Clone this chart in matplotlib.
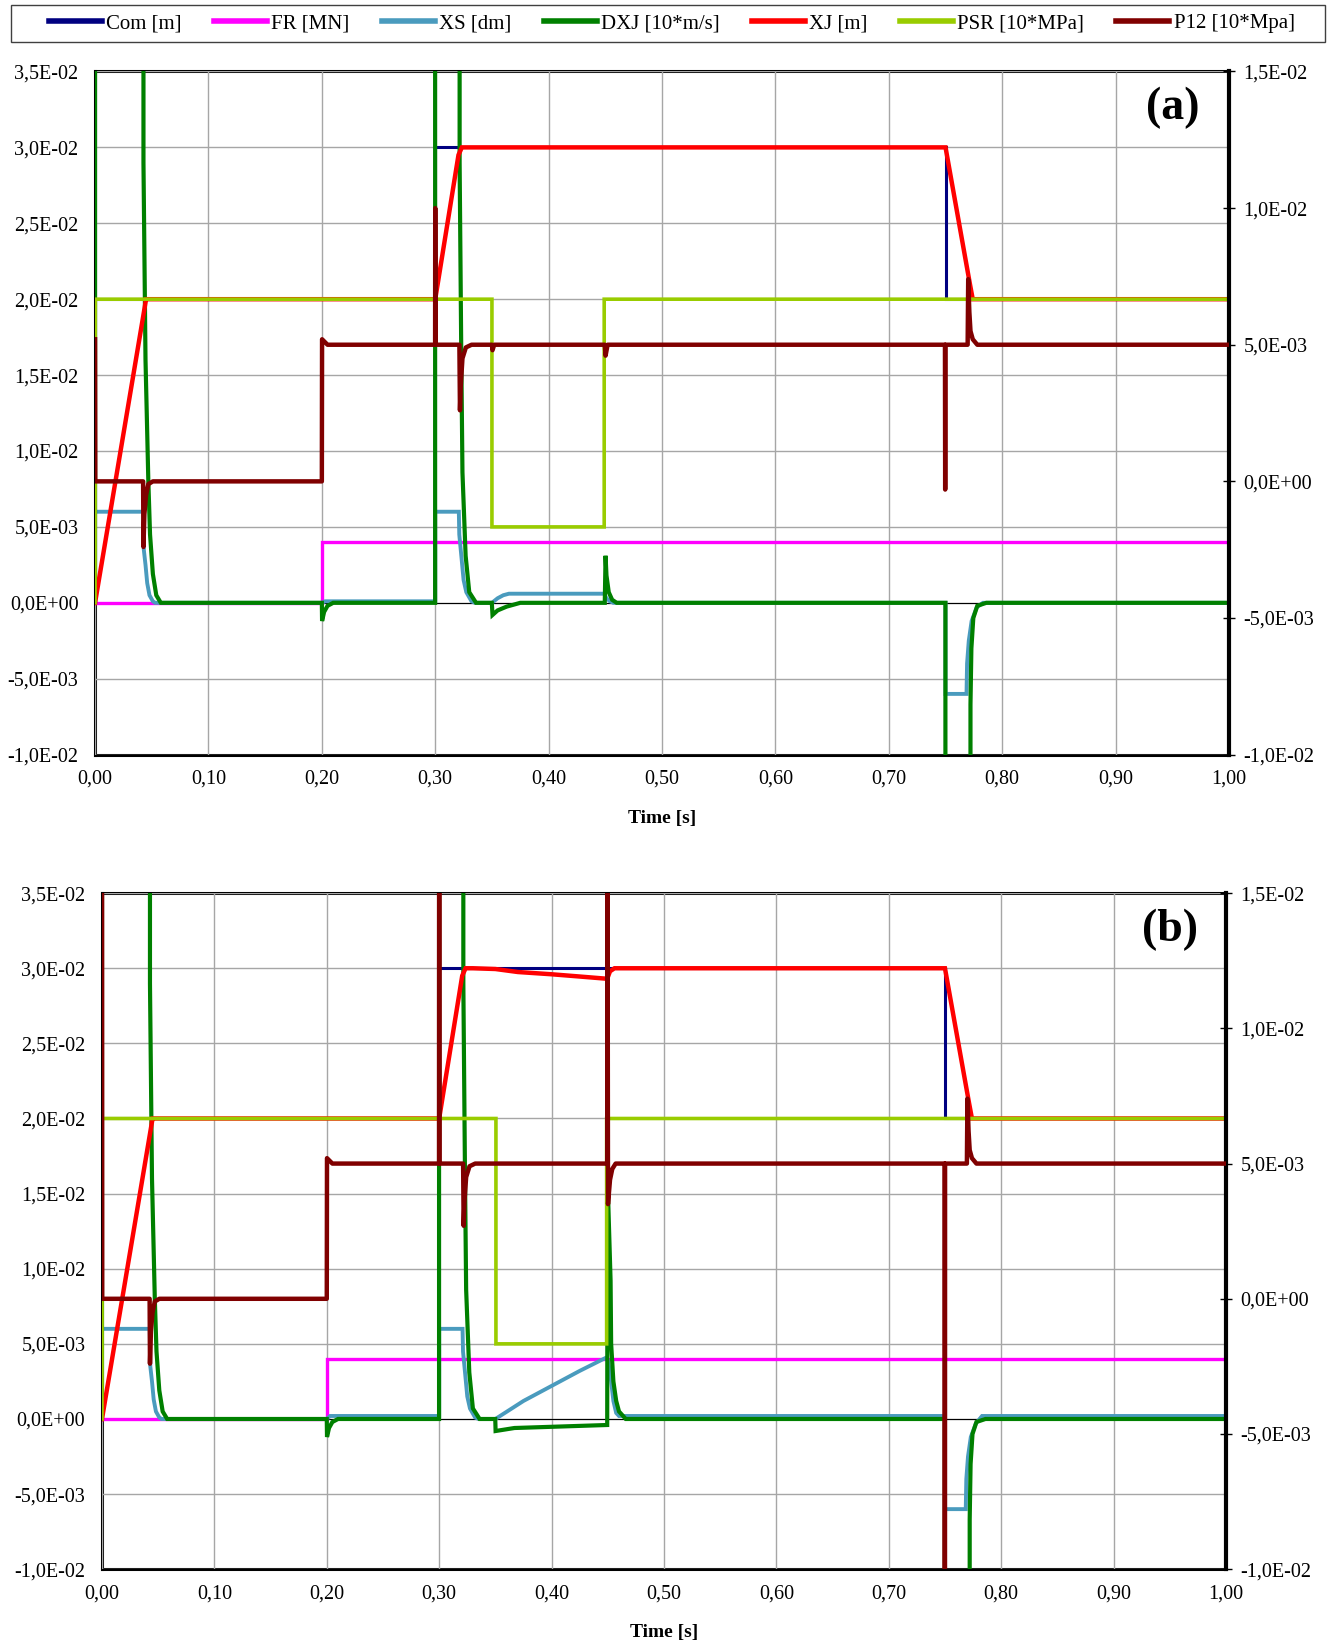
import matplotlib
matplotlib.use('Agg')
import matplotlib.pyplot as plt
from matplotlib.lines import Line2D
from matplotlib.patches import Rectangle

plt.rcParams['font.family'] = ['Liberation Serif', 'DejaVu Serif']

names = ['Com [m]', 'FR [MN]', 'XS [dm]', 'DXJ [10*m/s]', 'XJ [m]', 'PSR [10*MPa]', 'P12 [10*Mpa]']
colors = ['#000080', '#FF00FF', '#4A9BBE', '#008000', '#FF0000', '#99CC00', '#800000']
widths = [2.2, 2.4, 2.8, 3.0, 3.2, 2.6, 3.2]

x_ticks = [0.0, 0.1, 0.2, 0.3, 0.4, 0.5, 0.6, 0.7, 0.8, 0.9, 1.0]
left_ticks = [-0.01, -0.005, 0.0, 0.005, 0.01, 0.015, 0.02, 0.025, 0.03, 0.035]
right_ticks = [-0.01, -0.005, 0.0, 0.005, 0.01, 0.015]

# ---- panel (a) ----
t_com_a = [0, 0.3, 0.3, 0.75, 0.75, 1.0]
com_a = [0.02, 0.02, 0.03, 0.03, 0.02, 0.02]

t_fr_a = [0, 0.2, 0.2, 1.0]
fr_a = [0, 0, 0.004, 0.004]

t_xs_a = [0, 0.0425, 0.043, 0.0445, 0.046, 0.048, 0.051, 0.053, 0.2, 0.203, 0.3, 0.3, 0.3208, 0.3212,
          0.323, 0.325, 0.3274, 0.332, 0.335, 0.35, 0.355, 0.36, 0.365, 0.37, 0.449, 0.451, 0.454, 0.457,
          0.75, 0.75, 0.7685, 0.769, 0.7705, 0.773, 0.7775, 0.783, 1.0]
xs_a = [0.006, 0.006, 0.0035, 0.0025, 0.0013, 0.0005, 0.0001, 0, 0, 0.0001, 0.0001, 0.006, 0.006, 0.0045,
        0.0031, 0.0015, 0.0007, 0.0001, 0, 0, 0.0003, 0.0005, 0.0006, 0.0006, 0.0006, 0.0003, 0.0001, 0,
        0, -0.006, -0.006, -0.004, -0.0025, -0.0012, -0.0003, 0, 0]

t_dxj_a = [0, 0.0001, 0.0425, 0.0427, 0.0445, 0.047, 0.0485, 0.051, 0.054, 0.058, 0.2, 0.2002, 0.202,
           0.205, 0.21, 0.2999, 0.3001, 0.3213, 0.3215, 0.323, 0.324, 0.3268, 0.33, 0.336, 0.3499, 0.3505,
           0.355, 0.363, 0.375, 0.4495, 0.4502, 0.451, 0.453, 0.456, 0.46, 0.7499, 0.7501, 0.7719, 0.772,
           0.7728, 0.7745, 0.778, 0.786, 1.0]
dxj_a = [0, 4.4, 4.4, 0.029, 0.016, 0.008, 0.0045, 0.0019, 0.0005, 0, 0, -0.0012, -0.0006,
         -0.0002, 0, 0, 4.5, 4.5, 0.029, 0.016, 0.0086, 0.0031, 0.0007, 0, 0, -0.0008,
         -0.0005, -0.00025, 0, 0, 0.0031, 0.0018, 0.0007, 0.0002, 0, 0, -4.0, -4.0, -0.0067,
         -0.003, -0.001, -0.0002, 0, 0]

t_xj_a = [0, 0.045, 0.047, 0.3, 0.3205, 0.3235, 0.75, 0.7715, 0.774, 1.0]
xj_a = [0, 0.02, 0.02, 0.02, 0.0295, 0.03, 0.03, 0.021, 0.02, 0.02]

t_psr_a = [0, 0.0002, 0.35, 0.35, 0.449, 0.449, 1.0]
psr_a = [0, 0.02, 0.02, 0.005, 0.005, 0.02, 0.02]

t_p12_a = [0, 0.0002, 0.0424, 0.0427, 0.0435, 0.045, 0.047, 0.051, 0.2, 0.2002, 0.205, 0.2999, 0.3,
           0.3002, 0.3213, 0.3218, 0.3225, 0.324, 0.327, 0.332, 0.35, 0.3505, 0.352, 0.4495, 0.4502,
           0.452, 0.7495, 0.7497, 0.7499, 0.7695, 0.77, 0.771, 0.772, 0.774, 0.778, 1.0]
p12_a = [0.0052, 0, 0, -0.0024, -0.0012, -0.0005, -0.0001, 0, 0, 0.0052, 0.005, 0.005, 0.01,
         0.005, 0.005, 0.0026, 0.0035, 0.0045, 0.0049, 0.005, 0.005, 0.0048, 0.005, 0.005, 0.0046,
         0.005, 0.005, -0.0003, 0.005, 0.005, 0.0074, 0.0062, 0.0055, 0.0052, 0.005, 0.005]

# ---- panel (b) ----
t_com_b = [0, 0.3, 0.3, 0.75, 0.75, 1.0]
com_b = [0.02, 0.02, 0.03, 0.03, 0.02, 0.02]

t_fr_b = [0, 0.2, 0.2, 1.0]
fr_b = [0, 0, 0.004, 0.004]

t_xs_b = [0, 0.0425, 0.043, 0.0445, 0.046, 0.048, 0.051, 0.053, 0.2, 0.203, 0.3, 0.3, 0.3208, 0.3212,
          0.323, 0.325, 0.3274, 0.332, 0.335, 0.35, 0.375, 0.40, 0.425, 0.449, 0.4505, 0.453, 0.455,
          0.4575, 0.46, 0.75, 0.75, 0.7685, 0.769, 0.7705, 0.773, 0.7775, 0.783, 1.0]
xs_b = [0.006, 0.006, 0.0035, 0.0025, 0.0013, 0.0005, 0.0001, 0, 0, 0.0002, 0.0002, 0.006, 0.006, 0.0045,
        0.0031, 0.0015, 0.0007, 0.0001, 0, 0, 0.0012, 0.0022, 0.0032, 0.0041, 0.0038, 0.0025, 0.0012,
        0.0004, 0.0002, 0.0002, -0.006, -0.006, -0.004, -0.0025, -0.0012, -0.0003, 0.0002, 0.0002]

t_dxj_b = [0, 0.0001, 0.0425, 0.0427, 0.0445, 0.047, 0.0485, 0.051, 0.054, 0.058, 0.2, 0.2002, 0.202,
           0.205, 0.21, 0.2999, 0.3001, 0.3213, 0.3215, 0.323, 0.324, 0.3268, 0.33, 0.336, 0.3499, 0.3502,
           0.367, 0.4495, 0.4498, 0.4525, 0.453, 0.455, 0.4575, 0.46, 0.466, 0.7499, 0.7501, 0.7719,
           0.772, 0.7728, 0.7745, 0.778, 0.786, 1.0]
dxj_b = [0, 4.4, 4.4, 0.029, 0.016, 0.008, 0.0045, 0.0019, 0.0005, 0, 0, -0.0012, -0.0006,
         -0.0002, 0, 0, 4.5, 4.5, 0.029, 0.016, 0.0086, 0.0031, 0.0007, 0, 0, -0.0008,
         -0.0006, -0.0004, 0.016, 0.0092, 0.005, 0.0025, 0.0012, 0.0005, 0, 0, -4.0, -4.0,
         -0.0067, -0.003, -0.001, -0.0002, 0, 0]

t_xj_b = [0, 0.045, 0.047, 0.3, 0.3205, 0.3235, 0.33, 0.35, 0.37, 0.40, 0.425, 0.4495, 0.452, 0.456,
          0.75, 0.7715, 0.774, 1.0]
xj_b = [0, 0.02, 0.02, 0.02, 0.0295, 0.03, 0.03, 0.02995, 0.02975, 0.0296, 0.02945, 0.0293, 0.0298,
        0.03, 0.03, 0.021, 0.02, 0.02]

t_psr_b = [0, 0.0002, 0.3505, 0.3505, 0.449, 0.449, 1.0]
psr_b = [0, 0.02, 0.02, 0.005, 0.005, 0.02, 0.02]

t_p12_b = [0, 0.0002, 0.0424, 0.0427, 0.0435, 0.045, 0.047, 0.051, 0.2, 0.2002, 0.205, 0.2999, 0.3,
           0.3002, 0.3213, 0.3218, 0.3225, 0.324, 0.327, 0.332, 0.4495, 0.4497, 0.4502, 0.452, 0.454,
           0.457, 0.7497, 0.7499, 0.7501, 0.7695, 0.77, 0.771, 0.772, 0.774, 0.778, 1.0]
p12_b = [0.02, 0, 0, -0.0024, -0.0012, -0.0005, -0.0001, 0, 0, 0.0052, 0.005, 0.005, 0.02,
         0.005, 0.005, 0.0027, 0.0036, 0.0045, 0.0049, 0.005, 0.005, 0.02, 0.0035, 0.0044, 0.0048,
         0.005, 0.005, -0.03, 0.005, 0.005, 0.0074, 0.0062, 0.0055, 0.0052, 0.005, 0.005]


def sci(v, pos=None):
    if abs(v) < 1e-12:
        v = 0.0
    return f"{v:.1E}".replace('.', ',')


def dec(v, pos=None):
    return f"{v:.2f}".replace('.', ',')


def draw_panel(rect, left_data, p12_t, p12_v, tag):
    ax = fig.add_axes(rect)
    ax.set_xlim(0, 1)
    ax.set_ylim(-0.01, 0.035)
    ax.set_xticks(x_ticks)
    ax.set_yticks(left_ticks)
    ax.set_xticklabels([dec(v) for v in x_ticks])
    ax.set_yticklabels([sci(v) for v in left_ticks])
    ax.grid(True, color='#A6A6A6', lw=1.0)
    ax.set_axisbelow(True)
    ax.tick_params(axis='both', length=0, labelsize=14.5, colors='black')
    ax.tick_params(axis='y', pad=12)
    ax.tick_params(axis='x', pad=11)
    ax.axhline(0, color='black', lw=0.8, zorder=1)
    for sp in ax.spines.values():
        sp.set_linewidth(2.2)
        sp.set_zorder(0.5)
    ax.spines['right'].set_visible(False)

    for (t, v), c, w in zip(left_data, colors[:6], widths[:6]):
        ax.plot(t, v, color=c, lw=w, solid_joinstyle='miter', zorder=2)

    ax.set_xlabel('Time [s]', fontsize=14, fontweight='bold', labelpad=15)

    ax2 = ax.twinx()
    ax2.set_ylim(-0.01, 0.015)
    ax2.set_yticks(right_ticks)
    ax2.set_yticklabels([sci(v) for v in right_ticks])
    ax2.tick_params(axis='y', direction='inout', length=9, width=1.0, labelsize=14.5, pad=6)
    for name in ['left', 'top', 'bottom']:
        ax2.spines[name].set_visible(False)
    ax2.spines['right'].set_linewidth(3.0)
    ax2.spines['right'].set_zorder(0.5)
    ax2.plot(p12_t, p12_v, color=colors[6], lw=widths[6], zorder=2)

    ax2.text(0.95, 0.946, tag, transform=ax2.transAxes, ha='center', va='center',
             fontsize=33, fontweight='bold')
    return ax


fig = plt.figure(figsize=(13.33, 16.43), dpi=100)

data_a = [(t_com_a, com_a), (t_fr_a, fr_a), (t_xs_a, xs_a), (t_dxj_a, dxj_a), (t_xj_a, xj_a), (t_psr_a, psr_a)]
data_b = [(t_com_b, com_b), (t_fr_b, fr_b), (t_xs_b, xs_b), (t_dxj_b, dxj_b), (t_xj_b, xj_b), (t_psr_b, psr_b)]

draw_panel([0.0713, 0.5407, 0.8507, 0.4158], data_a, t_p12_a, p12_a, '(a)')
draw_panel([0.0765, 0.0449, 0.8432, 0.4115], data_b, t_p12_b, p12_b, '(b)')

# legend strip at the top
handles = [Line2D([0], [0], color=c, lw=4) for c in colors]
fig.legend(handles, names, loc='center', bbox_to_anchor=(0.504, 0.9856), ncol=7, frameon=False,
           fontsize=15, handlelength=2.55, handletextpad=0.2, columnspacing=1.55)
fig.patches.append(Rectangle((0.0079, 0.9744), 0.9858, 0.0224, transform=fig.transFigure,
                             fill=False, ec='#404040', lw=1.0))

fig.savefig('out.png', dpi=100)
